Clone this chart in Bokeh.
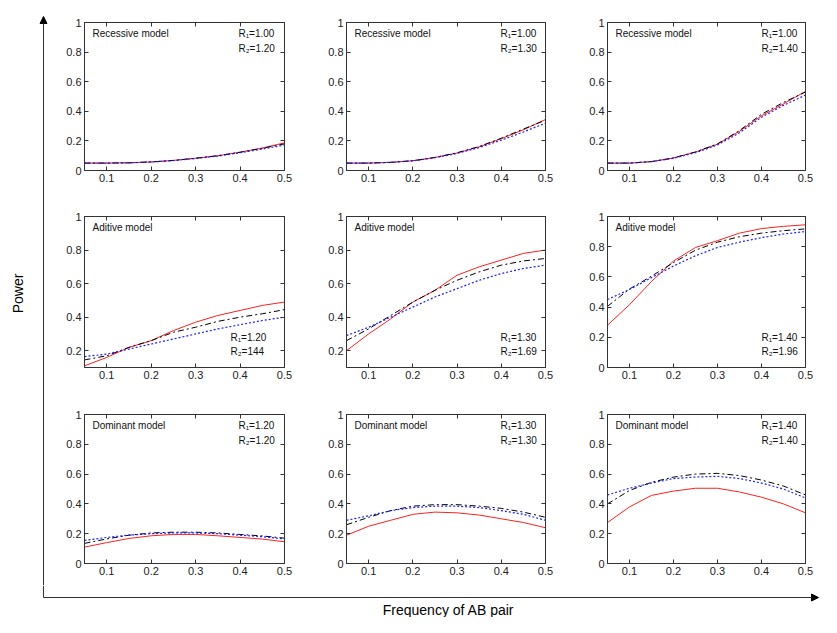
import math
from bokeh.plotting import figure
from bokeh.models import Range1d, FixedTicker, CustomJSTickFormatter, LinearAxis, Label, Arrow, NormalHead
from bokeh.layouts import row, column
from bokeh.embed import file_html
from bokeh.resources import INLINE

# ---------------- data ----------------
freq = [0.05, 0.10, 0.15, 0.20, 0.25, 0.30, 0.35, 0.40, 0.45, 0.50]
x_ticks = [0.1, 0.2, 0.3, 0.4, 0.5]
y_ticks = [0, 0.2, 0.4, 0.6, 0.8, 1]

# Recessive model
rec1_solid   = [0.05, 0.05, 0.052, 0.058, 0.068, 0.083, 0.100, 0.124, 0.152, 0.187]
rec1_dashdot = [0.05, 0.05, 0.052, 0.058, 0.068, 0.083, 0.100, 0.123, 0.150, 0.180]
rec1_dotted  = [0.05, 0.05, 0.052, 0.057, 0.067, 0.081, 0.097, 0.120, 0.145, 0.172]

rec2_solid   = [0.05, 0.05, 0.055, 0.066, 0.088, 0.118, 0.160, 0.215, 0.275, 0.345]
rec2_dashdot = [0.05, 0.05, 0.055, 0.066, 0.088, 0.120, 0.162, 0.218, 0.280, 0.340]
rec2_dotted  = [0.05, 0.05, 0.055, 0.065, 0.086, 0.115, 0.155, 0.205, 0.260, 0.320]

rec3_solid   = [0.05, 0.05, 0.060, 0.085, 0.125, 0.178, 0.265, 0.370, 0.450, 0.535]
rec3_dashdot = [0.05, 0.05, 0.060, 0.085, 0.125, 0.180, 0.270, 0.380, 0.460, 0.530]
rec3_dotted  = [0.05, 0.05, 0.060, 0.082, 0.120, 0.172, 0.255, 0.360, 0.440, 0.510]

# Additive model
add1_solid   = [0.110, 0.160, 0.220, 0.260, 0.320, 0.370, 0.410, 0.440, 0.470, 0.490]
add1_dashdot = [0.145, 0.170, 0.220, 0.260, 0.310, 0.340, 0.375, 0.400, 0.420, 0.445]
add1_dotted  = [0.165, 0.180, 0.210, 0.240, 0.270, 0.300, 0.330, 0.355, 0.380, 0.400]

add2_solid   = [0.200, 0.300, 0.390, 0.490, 0.560, 0.650, 0.700, 0.740, 0.780, 0.800]
add2_dashdot = [0.260, 0.330, 0.410, 0.490, 0.560, 0.620, 0.670, 0.710, 0.735, 0.750]
add2_dotted  = [0.290, 0.340, 0.400, 0.460, 0.520, 0.570, 0.620, 0.660, 0.690, 0.710]

add3_solid   = [0.280, 0.416, 0.570, 0.705, 0.795, 0.840, 0.890, 0.920, 0.935, 0.945]
add3_dashdot = [0.405, 0.520, 0.605, 0.695, 0.777, 0.830, 0.866, 0.890, 0.906, 0.918]
add3_dotted  = [0.450, 0.517, 0.595, 0.672, 0.740, 0.795, 0.830, 0.860, 0.884, 0.900]

# Dominant model
dom1_solid   = [0.110, 0.140, 0.168, 0.186, 0.195, 0.195, 0.186, 0.175, 0.164, 0.146]
dom1_dashdot = [0.135, 0.165, 0.190, 0.205, 0.210, 0.210, 0.205, 0.195, 0.185, 0.170]
dom1_dotted  = [0.155, 0.175, 0.190, 0.200, 0.205, 0.205, 0.200, 0.190, 0.180, 0.165]

dom2_solid   = [0.190, 0.250, 0.290, 0.330, 0.345, 0.340, 0.325, 0.300, 0.275, 0.240]
dom2_dashdot = [0.260, 0.310, 0.355, 0.385, 0.395, 0.395, 0.385, 0.370, 0.345, 0.310]
dom2_dotted  = [0.290, 0.320, 0.355, 0.375, 0.385, 0.385, 0.375, 0.355, 0.330, 0.290]

dom3_solid   = [0.275, 0.380, 0.457, 0.486, 0.505, 0.505, 0.480, 0.445, 0.400, 0.340]
dom3_dashdot = [0.400, 0.490, 0.545, 0.580, 0.600, 0.605, 0.590, 0.560, 0.520, 0.460]
dom3_dotted  = [0.460, 0.505, 0.540, 0.570, 0.580, 0.585, 0.570, 0.540, 0.500, 0.440]

model_names = ["Recessive model", "Aditive model", "Dominant model"]
r1_texts = [["R\u2081=1.00", "R\u2081=1.00", "R\u2081=1.00"],
            ["R\u2081=1.20", "R\u2081=1.30", "R\u2081=1.40"],
            ["R\u2081=1.20", "R\u2081=1.30", "R\u2081=1.40"]]
r2_texts = [["R\u2082=1.20", "R\u2082=1.30", "R\u2082=1.40"],
            ["R\u2082=144", "R\u2082=1.69", "R\u2082=1.96"],
            ["R\u2082=1.20", "R\u2082=1.30", "R\u2082=1.40"]]
y_lower = [[0, 0, 0], [0.1, 0.1, 0], [0, 0, 0]]
x_label = "Frequency of AB pair"
y_label = "Power"

series = [
    [(rec1_solid, rec1_dashdot, rec1_dotted), (rec2_solid, rec2_dashdot, rec2_dotted), (rec3_solid, rec3_dashdot, rec3_dotted)],
    [(add1_solid, add1_dashdot, add1_dotted), (add2_solid, add2_dashdot, add2_dotted), (add3_solid, add3_dashdot, add3_dotted)],
    [(dom1_solid, dom1_dashdot, dom1_dotted), (dom2_solid, dom2_dashdot, dom2_dotted), (dom3_solid, dom3_dashdot, dom3_dotted)],
]

FONT = "Liberation Sans"
FRAME_C = "#333333"
TEXT_C = "#222222"

# layout (pixels)
LEFT_W = 48
COL_L = [36, 36, 36]
COL_F = [200, 199, 198]
COL_R = [26, 26, 15]
ROW_T = [22, 20, 20]
ROW_F = [148, 151, 149]
ROW_B = [26, 27, 22]

label_fmt = CustomJSTickFormatter(code="return String(Math.round(tick*10)/10);")


def style_axis(ax, ticks, show_labels):
    ax.ticker = FixedTicker(ticks=ticks)
    ax.major_tick_in = 4
    ax.major_tick_out = 0
    ax.minor_tick_line_color = None
    ax.axis_line_color = FRAME_C
    ax.major_tick_line_color = FRAME_C
    ax.major_label_text_font = FONT
    ax.major_label_text_font_size = "11px"
    ax.major_label_text_color = TEXT_C
    if show_labels:
        ax.formatter = label_fmt
        ax.major_label_standoff = 3
    else:
        ax.formatter = CustomJSTickFormatter(code="return '';")
        ax.major_label_standoff = 0


def add_text(p, x, y, xo, yo, text):
    p.add_layout(Label(x=x, y=y, x_offset=xo, y_offset=yo, text=text,
                       text_font=FONT, text_font_size="10px", text_color="#111111",
                       text_baseline="middle"))


def make_panel(i, j):
    ymin = y_lower[i][j]
    p = figure(width=COL_L[j] + COL_F[j] + COL_R[j], height=ROW_T[i] + ROW_F[i] + ROW_B[i],
               x_range=Range1d(0.05, 0.5), y_range=Range1d(ymin, 1),
               x_axis_type=None, y_axis_type=None,
               output_backend="svg", toolbar_location=None,
               min_border_left=COL_L[j], min_border_right=COL_R[j],
               min_border_top=ROW_T[i], min_border_bottom=ROW_B[i])
    p.outline_line_color = FRAME_C
    p.outline_line_width = 1
    p.background_fill_color = "white"
    p.border_fill_color = "white"

    for loc, ticks, lab in (("below", x_ticks, True), ("left", y_ticks, True),
                            ("above", x_ticks, False), ("right", y_ticks, False)):
        ax = LinearAxis()
        style_axis(ax, ticks, lab)
        p.add_layout(ax, loc)

    solid, dashdot, dotted = series[i][j]
    p.line(freq, solid, line_color="#ff2020", line_width=1)
    p.line(freq, dashdot, line_color="#000000", line_width=1, line_dash="6 3 2 3")
    p.line(freq, dotted, line_color="#2020ff", line_width=1.2, line_dash="2 2")

    add_text(p, 0.05, 1, 8, -11, model_names[i])
    rx = 146 if (i == 1 and j == 0) else 154
    if i == 1:
        add_text(p, 0.05, ymin, rx, 30, r1_texts[i][j])
        add_text(p, 0.05, ymin, rx, 16, r2_texts[i][j])
    else:
        add_text(p, 0.05, 1, rx, -11, r1_texts[i][j])
        add_text(p, 0.05, 1, rx, -26, r2_texts[i][j])
    return p


rows = [row(*[make_panel(i, j) for j in range(3)]) for i in range(3)]
grid = column(*rows)
grid_h = sum(ROW_T) + sum(ROW_F) + sum(ROW_B)
total_w = LEFT_W + sum(COL_L) + sum(COL_F) + sum(COL_R)
total_h = 617
AX_X = 43
AX_Y = 597

# left strip with vertical arrow and y label
left = figure(width=LEFT_W, height=grid_h, x_range=Range1d(0, LEFT_W), y_range=Range1d(grid_h, 0),
              x_axis_type=None, y_axis_type=None, output_backend="svg",
              toolbar_location=None, min_border=0)
left.outline_line_color = None
left.add_layout(Arrow(x_start=AX_X, y_start=grid_h, x_end=AX_X, y_end=16,
                      end=NormalHead(size=7, fill_color="black", line_color="black"),
                      line_color=FRAME_C, line_width=1))
left.add_layout(Label(x=17, y=293, text=y_label, angle=math.pi / 2, text_align="center",
                      text_baseline="middle", text_font=FONT, text_font_size="14px",
                      text_color="black"))

# bottom strip with horizontal arrow and x label
bottom = figure(width=total_w, height=total_h - grid_h, x_range=Range1d(0, total_w),
                y_range=Range1d(total_h, grid_h),
                x_axis_type=None, y_axis_type=None, output_backend="svg",
                toolbar_location=None, min_border=0)
bottom.outline_line_color = None
bottom.line([AX_X, AX_X], [grid_h, AX_Y], line_color=FRAME_C, line_width=1)
bottom.add_layout(Arrow(x_start=AX_X, y_start=AX_Y, x_end=total_w - 2, y_end=AX_Y,
                        end=NormalHead(size=7, fill_color="black", line_color="black"),
                        line_color=FRAME_C, line_width=1))
bottom.add_layout(Label(x=448, y=609, text=x_label, text_align="center",
                        text_baseline="middle", text_font=FONT, text_font_size="14px",
                        text_color="black"))

layout = column(row(left, grid), bottom)

open("out.html", "w").write(file_html(layout, INLINE))
